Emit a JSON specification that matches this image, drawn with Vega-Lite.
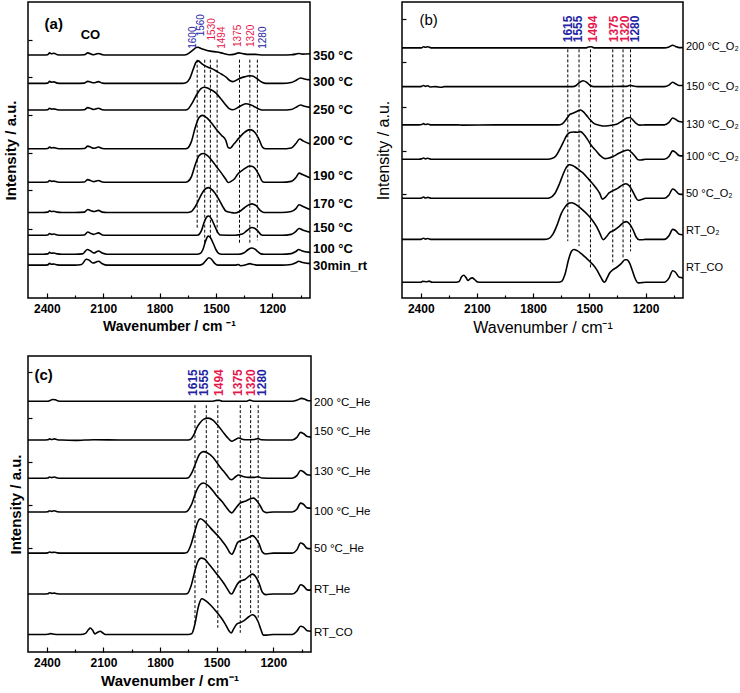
{
"$schema": "https://vega.github.io/schema/vega-lite/v6.json",
"autosize": {"type": "pad"},
"padding": {"left": 2, "top": 1, "right": 0, "bottom": 0},
"background": "white",
"spacing": 19,
"config": {
  "view": {"stroke": "black", "strokeWidth": 1.5},
  "axis": {"grid": false, "domain": false, "labelFont": "Liberation Sans", "titleFont": "Liberation Sans", "labelColor": "black", "titleColor": "black", "tickColor": "black", "tickWidth": 1.2},
  "text": {"font": "Liberation Sans", "color": "black"}
},
"datasets": {
"a": [
{"s":"a1","w":2500,"v":82.1},{"s":"a1","w":2420,"v":82.1},{"s":"a1","w":2395,"v":82.2},{"s":"a1","w":2385,"v":82.8},{"s":"a1","w":2375,"v":82.5},{"s":"a1","w":2362,"v":82.7},{"s":"a1","w":2345,"v":82.2},{"s":"a1","w":2320,"v":82.1},{"s":"a1","w":2250,"v":82.1},{"s":"a1","w":2200,"v":82.2},{"s":"a1","w":2182,"v":82.8},{"s":"a1","w":2165,"v":82.4},{"s":"a1","w":2150,"v":82.2},{"s":"a1","w":2125,"v":82.6},{"s":"a1","w":2105,"v":82.2},{"s":"a1","w":2080,"v":82.1},{"s":"a1","w":1950,"v":82.1},{"s":"a1","w":1800,"v":82.1},{"s":"a1","w":1680,"v":82.1},{"s":"a1","w":1660,"v":82.2},{"s":"a1","w":1640,"v":82.9},{"s":"a1","w":1620,"v":83.9},{"s":"a1","w":1605,"v":84.6},{"s":"a1","w":1595,"v":84.7},{"s":"a1","w":1580,"v":84.3},{"s":"a1","w":1560,"v":83.9},{"s":"a1","w":1530,"v":83.4},{"s":"a1","w":1494,"v":83.1},{"s":"a1","w":1460,"v":82.6},{"s":"a1","w":1430,"v":82.2},{"s":"a1","w":1400,"v":82.4},{"s":"a1","w":1380,"v":82.8},{"s":"a1","w":1360,"v":82.6},{"s":"a1","w":1330,"v":82.3},{"s":"a1","w":1290,"v":82.3},{"s":"a1","w":1250,"v":82.1},{"s":"a1","w":1150,"v":82.1},{"s":"a1","w":1100,"v":82.2},{"s":"a1","w":1075,"v":82.4},{"s":"a1","w":1060,"v":82.6},{"s":"a1","w":1040,"v":82.4},{"s":"a1","w":1000,"v":82.5},
{"s":"a2","w":2500,"v":72.5},{"s":"a2","w":2420,"v":72.5},{"s":"a2","w":2395,"v":72.6},{"s":"a2","w":2385,"v":73.2},{"s":"a2","w":2375,"v":72.9},{"s":"a2","w":2362,"v":73.0},{"s":"a2","w":2345,"v":72.6},{"s":"a2","w":2320,"v":72.5},{"s":"a2","w":2250,"v":72.5},{"s":"a2","w":2200,"v":72.6},{"s":"a2","w":2182,"v":73.2},{"s":"a2","w":2165,"v":72.9},{"s":"a2","w":2150,"v":72.7},{"s":"a2","w":2125,"v":73.1},{"s":"a2","w":2105,"v":72.6},{"s":"a2","w":2080,"v":72.5},{"s":"a2","w":1950,"v":72.5},{"s":"a2","w":1800,"v":72.5},{"s":"a2","w":1680,"v":72.5},{"s":"a2","w":1660,"v":72.7},{"s":"a2","w":1640,"v":74.1},{"s":"a2","w":1620,"v":77.5},{"s":"a2","w":1605,"v":79.8},{"s":"a2","w":1594,"v":80.1},{"s":"a2","w":1580,"v":79.4},{"s":"a2","w":1560,"v":78.5},{"s":"a2","w":1540,"v":77.9},{"s":"a2","w":1519,"v":77.4},{"s":"a2","w":1494,"v":76.5},{"s":"a2","w":1470,"v":75.6},{"s":"a2","w":1448,"v":74.7},{"s":"a2","w":1425,"v":73.4},{"s":"a2","w":1410,"v":73.1},{"s":"a2","w":1380,"v":74.0},{"s":"a2","w":1350,"v":74.7},{"s":"a2","w":1320,"v":75.1},{"s":"a2","w":1306,"v":75.0},{"s":"a2","w":1280,"v":74.0},{"s":"a2","w":1255,"v":72.9},{"s":"a2","w":1235,"v":72.5},{"s":"a2","w":1150,"v":72.5},{"s":"a2","w":1100,"v":72.8},{"s":"a2","w":1075,"v":73.5},{"s":"a2","w":1050,"v":74.3},{"s":"a2","w":1030,"v":74.0},{"s":"a2","w":1000,"v":73.7},
{"s":"a3","w":2500,"v":63.5},{"s":"a3","w":2420,"v":63.5},{"s":"a3","w":2395,"v":63.6},{"s":"a3","w":2385,"v":64.1},{"s":"a3","w":2375,"v":63.8},{"s":"a3","w":2362,"v":63.9},{"s":"a3","w":2345,"v":63.6},{"s":"a3","w":2320,"v":63.5},{"s":"a3","w":2250,"v":63.5},{"s":"a3","w":2200,"v":63.6},{"s":"a3","w":2182,"v":64.3},{"s":"a3","w":2165,"v":64.0},{"s":"a3","w":2150,"v":63.7},{"s":"a3","w":2125,"v":64.1},{"s":"a3","w":2105,"v":63.6},{"s":"a3","w":2080,"v":63.5},{"s":"a3","w":1950,"v":63.5},{"s":"a3","w":1800,"v":63.5},{"s":"a3","w":1670,"v":63.5},{"s":"a3","w":1652,"v":63.7},{"s":"a3","w":1630,"v":65.5},{"s":"a3","w":1600,"v":69.0},{"s":"a3","w":1580,"v":70.7},{"s":"a3","w":1563,"v":71.2},{"s":"a3","w":1540,"v":70.8},{"s":"a3","w":1501,"v":69.3},{"s":"a3","w":1470,"v":67.0},{"s":"a3","w":1445,"v":65.0},{"s":"a3","w":1430,"v":64.0},{"s":"a3","w":1410,"v":63.6},{"s":"a3","w":1380,"v":64.5},{"s":"a3","w":1360,"v":65.2},{"s":"a3","w":1341,"v":65.6},{"s":"a3","w":1320,"v":65.4},{"s":"a3","w":1300,"v":64.8},{"s":"a3","w":1270,"v":63.8},{"s":"a3","w":1245,"v":63.5},{"s":"a3","w":1150,"v":63.5},{"s":"a3","w":1100,"v":63.7},{"s":"a3","w":1075,"v":64.4},{"s":"a3","w":1050,"v":65.2},{"s":"a3","w":1030,"v":64.8},{"s":"a3","w":1000,"v":64.4},
{"s":"a4","w":2500,"v":50.4},{"s":"a4","w":2420,"v":50.4},{"s":"a4","w":2395,"v":50.5},{"s":"a4","w":2385,"v":51.0},{"s":"a4","w":2375,"v":50.7},{"s":"a4","w":2362,"v":50.8},{"s":"a4","w":2345,"v":50.5},{"s":"a4","w":2320,"v":50.4},{"s":"a4","w":2250,"v":50.4},{"s":"a4","w":2200,"v":50.5},{"s":"a4","w":2182,"v":51.3},{"s":"a4","w":2165,"v":50.9},{"s":"a4","w":2150,"v":50.6},{"s":"a4","w":2125,"v":51.0},{"s":"a4","w":2105,"v":50.5},{"s":"a4","w":2080,"v":50.4},{"s":"a4","w":1950,"v":50.4},{"s":"a4","w":1800,"v":50.4},{"s":"a4","w":1670,"v":50.4},{"s":"a4","w":1652,"v":50.6},{"s":"a4","w":1630,"v":53.0},{"s":"a4","w":1610,"v":57.7},{"s":"a4","w":1590,"v":61.0},{"s":"a4","w":1572,"v":61.7},{"s":"a4","w":1550,"v":60.9},{"s":"a4","w":1525,"v":59.2},{"s":"a4","w":1501,"v":57.2},{"s":"a4","w":1470,"v":54.9},{"s":"a4","w":1448,"v":53.3},{"s":"a4","w":1435,"v":50.8},{"s":"a4","w":1425,"v":50.6},{"s":"a4","w":1405,"v":52.0},{"s":"a4","w":1377,"v":54.1},{"s":"a4","w":1350,"v":55.9},{"s":"a4","w":1320,"v":56.9},{"s":"a4","w":1305,"v":56.6},{"s":"a4","w":1290,"v":55.7},{"s":"a4","w":1270,"v":53.4},{"s":"a4","w":1252,"v":50.9},{"s":"a4","w":1235,"v":50.4},{"s":"a4","w":1150,"v":50.4},{"s":"a4","w":1100,"v":50.7},{"s":"a4","w":1075,"v":52.2},{"s":"a4","w":1055,"v":53.7},{"s":"a4","w":1035,"v":53.0},{"s":"a4","w":1000,"v":52.0},
{"s":"a5","w":2500,"v":39.1},{"s":"a5","w":2420,"v":39.1},{"s":"a5","w":2395,"v":39.2},{"s":"a5","w":2385,"v":39.7},{"s":"a5","w":2375,"v":39.4},{"s":"a5","w":2362,"v":39.5},{"s":"a5","w":2345,"v":39.2},{"s":"a5","w":2320,"v":39.1},{"s":"a5","w":2250,"v":39.1},{"s":"a5","w":2200,"v":39.2},{"s":"a5","w":2182,"v":40.0},{"s":"a5","w":2165,"v":39.6},{"s":"a5","w":2150,"v":39.3},{"s":"a5","w":2125,"v":39.7},{"s":"a5","w":2105,"v":39.2},{"s":"a5","w":2080,"v":39.1},{"s":"a5","w":1950,"v":39.1},{"s":"a5","w":1800,"v":39.1},{"s":"a5","w":1670,"v":39.1},{"s":"a5","w":1652,"v":39.3},{"s":"a5","w":1630,"v":41.1},{"s":"a5","w":1610,"v":45.1},{"s":"a5","w":1590,"v":48.1},{"s":"a5","w":1569,"v":48.8},{"s":"a5","w":1545,"v":48.1},{"s":"a5","w":1520,"v":46.3},{"s":"a5","w":1500,"v":44.6},{"s":"a5","w":1470,"v":42.1},{"s":"a5","w":1448,"v":40.1},{"s":"a5","w":1435,"v":39.0},{"s":"a5","w":1420,"v":39.4},{"s":"a5","w":1400,"v":40.4},{"s":"a5","w":1386,"v":41.7},{"s":"a5","w":1350,"v":43.6},{"s":"a5","w":1320,"v":44.6},{"s":"a5","w":1305,"v":44.4},{"s":"a5","w":1290,"v":43.6},{"s":"a5","w":1270,"v":41.4},{"s":"a5","w":1252,"v":39.3},{"s":"a5","w":1235,"v":39.1},{"s":"a5","w":1150,"v":39.1},{"s":"a5","w":1100,"v":39.4},{"s":"a5","w":1075,"v":40.7},{"s":"a5","w":1058,"v":42.2},{"s":"a5","w":1040,"v":41.7},{"s":"a5","w":1000,"v":40.6},
{"s":"a6","w":2500,"v":28.9},{"s":"a6","w":2420,"v":28.9},{"s":"a6","w":2395,"v":29.0},{"s":"a6","w":2385,"v":29.5},{"s":"a6","w":2375,"v":29.2},{"s":"a6","w":2362,"v":29.3},{"s":"a6","w":2345,"v":29.0},{"s":"a6","w":2320,"v":28.9},{"s":"a6","w":2250,"v":28.9},{"s":"a6","w":2200,"v":29.0},{"s":"a6","w":2182,"v":29.9},{"s":"a6","w":2165,"v":29.5},{"s":"a6","w":2150,"v":29.2},{"s":"a6","w":2125,"v":29.6},{"s":"a6","w":2105,"v":29.0},{"s":"a6","w":2080,"v":28.9},{"s":"a6","w":1950,"v":28.9},{"s":"a6","w":1800,"v":28.9},{"s":"a6","w":1650,"v":28.9},{"s":"a6","w":1634,"v":29.1},{"s":"a6","w":1610,"v":30.9},{"s":"a6","w":1580,"v":34.7},{"s":"a6","w":1560,"v":36.7},{"s":"a6","w":1540,"v":37.3},{"s":"a6","w":1520,"v":36.5},{"s":"a6","w":1490,"v":33.9},{"s":"a6","w":1465,"v":31.0},{"s":"a6","w":1448,"v":29.4},{"s":"a6","w":1420,"v":28.9},{"s":"a6","w":1400,"v":28.7},{"s":"a6","w":1375,"v":29.2},{"s":"a6","w":1350,"v":30.4},{"s":"a6","w":1320,"v":31.7},{"s":"a6","w":1309,"v":31.8},{"s":"a6","w":1285,"v":31.1},{"s":"a6","w":1262,"v":29.4},{"s":"a6","w":1245,"v":28.9},{"s":"a6","w":1150,"v":28.9},{"s":"a6","w":1100,"v":29.2},{"s":"a6","w":1075,"v":30.2},{"s":"a6","w":1058,"v":31.5},{"s":"a6","w":1040,"v":31.0},{"s":"a6","w":1000,"v":29.9},
{"s":"a7","w":2500,"v":21.2},{"s":"a7","w":2420,"v":21.2},{"s":"a7","w":2395,"v":21.3},{"s":"a7","w":2385,"v":21.8},{"s":"a7","w":2375,"v":21.5},{"s":"a7","w":2362,"v":21.6},{"s":"a7","w":2345,"v":21.3},{"s":"a7","w":2320,"v":21.2},{"s":"a7","w":2250,"v":21.2},{"s":"a7","w":2200,"v":21.3},{"s":"a7","w":2182,"v":22.3},{"s":"a7","w":2165,"v":21.8},{"s":"a7","w":2150,"v":21.5},{"s":"a7","w":2125,"v":22.0},{"s":"a7","w":2105,"v":21.3},{"s":"a7","w":2080,"v":21.2},{"s":"a7","w":1950,"v":21.2},{"s":"a7","w":1800,"v":21.2},{"s":"a7","w":1610,"v":21.2},{"s":"a7","w":1595,"v":21.3},{"s":"a7","w":1578,"v":22.7},{"s":"a7","w":1560,"v":26.1},{"s":"a7","w":1545,"v":27.6},{"s":"a7","w":1538,"v":27.7},{"s":"a7","w":1525,"v":26.8},{"s":"a7","w":1510,"v":24.8},{"s":"a7","w":1495,"v":22.7},{"s":"a7","w":1478,"v":21.3},{"s":"a7","w":1400,"v":21.2},{"s":"a7","w":1360,"v":21.6},{"s":"a7","w":1335,"v":22.8},{"s":"a7","w":1310,"v":23.8},{"s":"a7","w":1295,"v":23.6},{"s":"a7","w":1278,"v":22.7},{"s":"a7","w":1260,"v":21.4},{"s":"a7","w":1245,"v":21.2},{"s":"a7","w":1150,"v":21.2},{"s":"a7","w":1100,"v":21.5},{"s":"a7","w":1075,"v":22.5},{"s":"a7","w":1058,"v":23.5},{"s":"a7","w":1040,"v":23.0},{"s":"a7","w":1000,"v":22.2},
{"s":"a8","w":2500,"v":14.8},{"s":"a8","w":2420,"v":14.8},{"s":"a8","w":2395,"v":14.9},{"s":"a8","w":2385,"v":15.4},{"s":"a8","w":2375,"v":15.1},{"s":"a8","w":2362,"v":15.2},{"s":"a8","w":2345,"v":14.9},{"s":"a8","w":2320,"v":14.8},{"s":"a8","w":2250,"v":14.8},{"s":"a8","w":2210,"v":14.9},{"s":"a8","w":2185,"v":16.4},{"s":"a8","w":2165,"v":15.8},{"s":"a8","w":2150,"v":15.2},{"s":"a8","w":2125,"v":15.9},{"s":"a8","w":2105,"v":15.2},{"s":"a8","w":2080,"v":14.8},{"s":"a8","w":1950,"v":14.8},{"s":"a8","w":1800,"v":14.8},{"s":"a8","w":1600,"v":14.8},{"s":"a8","w":1585,"v":15.0},{"s":"a8","w":1570,"v":16.3},{"s":"a8","w":1555,"v":19.3},{"s":"a8","w":1542,"v":20.9},{"s":"a8","w":1530,"v":20.4},{"s":"a8","w":1515,"v":18.5},{"s":"a8","w":1500,"v":16.3},{"s":"a8","w":1485,"v":15.0},{"s":"a8","w":1470,"v":14.8},{"s":"a8","w":1380,"v":14.8},{"s":"a8","w":1350,"v":15.3},{"s":"a8","w":1330,"v":16.3},{"s":"a8","w":1311,"v":16.9},{"s":"a8","w":1295,"v":16.6},{"s":"a8","w":1278,"v":15.7},{"s":"a8","w":1260,"v":14.9},{"s":"a8","w":1245,"v":14.8},{"s":"a8","w":1150,"v":14.8},{"s":"a8","w":1100,"v":15.0},{"s":"a8","w":1075,"v":15.7},{"s":"a8","w":1060,"v":16.4},{"s":"a8","w":1045,"v":16.0},{"s":"a8","w":1000,"v":15.4},
{"s":"a9","w":2500,"v":11.1},{"s":"a9","w":2420,"v":11.1},{"s":"a9","w":2395,"v":11.2},{"s":"a9","w":2385,"v":11.7},{"s":"a9","w":2375,"v":11.4},{"s":"a9","w":2362,"v":11.5},{"s":"a9","w":2345,"v":11.2},{"s":"a9","w":2320,"v":11.1},{"s":"a9","w":2250,"v":11.1},{"s":"a9","w":2215,"v":11.3},{"s":"a9","w":2190,"v":13.1},{"s":"a9","w":2175,"v":12.8},{"s":"a9","w":2155,"v":11.8},{"s":"a9","w":2125,"v":12.4},{"s":"a9","w":2105,"v":11.6},{"s":"a9","w":2080,"v":11.1},{"s":"a9","w":1950,"v":11.1},{"s":"a9","w":1800,"v":11.1},{"s":"a9","w":1590,"v":11.1},{"s":"a9","w":1570,"v":11.5},{"s":"a9","w":1552,"v":12.8},{"s":"a9","w":1538,"v":13.6},{"s":"a9","w":1524,"v":13.1},{"s":"a9","w":1508,"v":11.8},{"s":"a9","w":1490,"v":11.1},{"s":"a9","w":1400,"v":11.1},{"s":"a9","w":1380,"v":11.3},{"s":"a9","w":1370,"v":10.9},{"s":"a9","w":1340,"v":11.2},{"s":"a9","w":1320,"v":11.6},{"s":"a9","w":1300,"v":11.3},{"s":"a9","w":1270,"v":11.1},{"s":"a9","w":1150,"v":11.1},{"s":"a9","w":1100,"v":11.3},{"s":"a9","w":1075,"v":11.9},{"s":"a9","w":1060,"v":12.4},{"s":"a9","w":1045,"v":12.1},{"s":"a9","w":1000,"v":11.6}
],
"b": [
{"s":"b1","w":2500,"v":84.5},{"s":"b1","w":2420,"v":84.5},{"s":"b1","w":2395,"v":84.5},{"s":"b1","w":2385,"v":84.9},{"s":"b1","w":2375,"v":84.7},{"s":"b1","w":2362,"v":84.9},{"s":"b1","w":2345,"v":84.5},{"s":"b1","w":2300,"v":84.5},{"s":"b1","w":2000,"v":84.5},{"s":"b1","w":1800,"v":84.5},{"s":"b1","w":1520,"v":84.5},{"s":"b1","w":1505,"v":84.8},{"s":"b1","w":1490,"v":84.9},{"s":"b1","w":1475,"v":84.5},{"s":"b1","w":1400,"v":84.5},{"s":"b1","w":1300,"v":84.5},{"s":"b1","w":1100,"v":84.5},{"s":"b1","w":1075,"v":84.8},{"s":"b1","w":1055,"v":85.4},{"s":"b1","w":1040,"v":85.0},{"s":"b1","w":1020,"v":84.6},{"s":"b1","w":1000,"v":84.6},
{"s":"b2","w":2500,"v":71.4},{"s":"b2","w":2410,"v":71.4},{"s":"b2","w":2395,"v":71.5},{"s":"b2","w":2385,"v":71.8},{"s":"b2","w":2375,"v":71.5},{"s":"b2","w":2362,"v":71.7},{"s":"b2","w":2350,"v":71.3},{"s":"b2","w":2320,"v":71.4},{"s":"b2","w":2290,"v":71.2},{"s":"b2","w":2275,"v":71.4},{"s":"b2","w":2200,"v":71.4},{"s":"b2","w":2000,"v":71.4},{"s":"b2","w":1800,"v":71.4},{"s":"b2","w":1590,"v":71.4},{"s":"b2","w":1570,"v":71.8},{"s":"b2","w":1555,"v":72.7},{"s":"b2","w":1533,"v":73.4},{"s":"b2","w":1515,"v":72.9},{"s":"b2","w":1495,"v":71.8},{"s":"b2","w":1475,"v":71.4},{"s":"b2","w":1400,"v":71.4},{"s":"b2","w":1330,"v":71.5},{"s":"b2","w":1300,"v":71.5},{"s":"b2","w":1282,"v":71.9},{"s":"b2","w":1265,"v":71.6},{"s":"b2","w":1240,"v":71.4},{"s":"b2","w":1100,"v":71.4},{"s":"b2","w":1075,"v":71.9},{"s":"b2","w":1055,"v":72.9},{"s":"b2","w":1040,"v":72.4},{"s":"b2","w":1020,"v":71.8},{"s":"b2","w":1000,"v":71.8},
{"s":"b3","w":2500,"v":58.5},{"s":"b3","w":2410,"v":58.5},{"s":"b3","w":2395,"v":58.6},{"s":"b3","w":2385,"v":58.9},{"s":"b3","w":2375,"v":58.6},{"s":"b3","w":2362,"v":58.8},{"s":"b3","w":2345,"v":58.5},{"s":"b3","w":2200,"v":58.5},{"s":"b3","w":2180,"v":58.4},{"s":"b3","w":2000,"v":58.5},{"s":"b3","w":1800,"v":58.5},{"s":"b3","w":1665,"v":58.5},{"s":"b3","w":1648,"v":58.7},{"s":"b3","w":1625,"v":60.2},{"s":"b3","w":1604,"v":62.0},{"s":"b3","w":1585,"v":62.5},{"s":"b3","w":1565,"v":63.1},{"s":"b3","w":1547,"v":63.5},{"s":"b3","w":1530,"v":62.8},{"s":"b3","w":1515,"v":61.7},{"s":"b3","w":1497,"v":60.3},{"s":"b3","w":1478,"v":59.1},{"s":"b3","w":1462,"v":58.6},{"s":"b3","w":1440,"v":58.3},{"s":"b3","w":1426,"v":58.1},{"s":"b3","w":1390,"v":58.3},{"s":"b3","w":1355,"v":58.7},{"s":"b3","w":1330,"v":59.6},{"s":"b3","w":1300,"v":60.8},{"s":"b3","w":1284,"v":61.0},{"s":"b3","w":1268,"v":60.2},{"s":"b3","w":1250,"v":59.0},{"s":"b3","w":1231,"v":58.4},{"s":"b3","w":1200,"v":58.5},{"s":"b3","w":1100,"v":58.5},{"s":"b3","w":1075,"v":59.3},{"s":"b3","w":1055,"v":60.8},{"s":"b3","w":1040,"v":60.4},{"s":"b3","w":1020,"v":59.6},{"s":"b3","w":1000,"v":59.4},
{"s":"b4","w":2500,"v":46.9},{"s":"b4","w":2410,"v":46.9},{"s":"b4","w":2395,"v":47.0},{"s":"b4","w":2385,"v":47.3},{"s":"b4","w":2375,"v":47.0},{"s":"b4","w":2362,"v":47.2},{"s":"b4","w":2345,"v":46.9},{"s":"b4","w":2200,"v":46.9},{"s":"b4","w":2000,"v":46.9},{"s":"b4","w":1800,"v":46.9},{"s":"b4","w":1720,"v":46.9},{"s":"b4","w":1701,"v":47.1},{"s":"b4","w":1680,"v":47.9},{"s":"b4","w":1660,"v":50.0},{"s":"b4","w":1640,"v":52.5},{"s":"b4","w":1620,"v":55.0},{"s":"b4","w":1604,"v":55.9},{"s":"b4","w":1585,"v":56.1},{"s":"b4","w":1565,"v":56.0},{"s":"b4","w":1547,"v":56.2},{"s":"b4","w":1530,"v":55.3},{"s":"b4","w":1510,"v":53.6},{"s":"b4","w":1490,"v":51.6},{"s":"b4","w":1462,"v":49.6},{"s":"b4","w":1440,"v":48.0},{"s":"b4","w":1417,"v":47.1},{"s":"b4","w":1395,"v":47.3},{"s":"b4","w":1373,"v":47.8},{"s":"b4","w":1345,"v":48.8},{"s":"b4","w":1315,"v":49.7},{"s":"b4","w":1293,"v":50.0},{"s":"b4","w":1275,"v":49.2},{"s":"b4","w":1255,"v":47.8},{"s":"b4","w":1240,"v":46.7},{"s":"b4","w":1225,"v":46.6},{"s":"b4","w":1200,"v":46.9},{"s":"b4","w":1100,"v":46.9},{"s":"b4","w":1075,"v":47.8},{"s":"b4","w":1055,"v":49.7},{"s":"b4","w":1040,"v":49.2},{"s":"b4","w":1020,"v":48.1},{"s":"b4","w":1000,"v":48.0},
{"s":"b5","w":2500,"v":33.7},{"s":"b5","w":2410,"v":33.7},{"s":"b5","w":2395,"v":33.8},{"s":"b5","w":2385,"v":34.1},{"s":"b5","w":2375,"v":33.8},{"s":"b5","w":2362,"v":34.0},{"s":"b5","w":2345,"v":33.7},{"s":"b5","w":2200,"v":33.7},{"s":"b5","w":2000,"v":33.7},{"s":"b5","w":1800,"v":33.7},{"s":"b5","w":1730,"v":33.7},{"s":"b5","w":1710,"v":33.9},{"s":"b5","w":1685,"v":35.2},{"s":"b5","w":1660,"v":38.5},{"s":"b5","w":1640,"v":41.8},{"s":"b5","w":1625,"v":43.9},{"s":"b5","w":1607,"v":45.0},{"s":"b5","w":1590,"v":44.8},{"s":"b5","w":1570,"v":44.0},{"s":"b5","w":1550,"v":43.0},{"s":"b5","w":1533,"v":42.2},{"s":"b5","w":1510,"v":40.6},{"s":"b5","w":1490,"v":39.2},{"s":"b5","w":1462,"v":37.0},{"s":"b5","w":1445,"v":35.4},{"s":"b5","w":1430,"v":33.4},{"s":"b5","w":1415,"v":34.0},{"s":"b5","w":1395,"v":35.5},{"s":"b5","w":1373,"v":36.3},{"s":"b5","w":1345,"v":37.2},{"s":"b5","w":1320,"v":38.3},{"s":"b5","w":1305,"v":38.6},{"s":"b5","w":1288,"v":38.0},{"s":"b5","w":1270,"v":36.2},{"s":"b5","w":1255,"v":34.3},{"s":"b5","w":1240,"v":33.0},{"s":"b5","w":1220,"v":33.3},{"s":"b5","w":1200,"v":33.7},{"s":"b5","w":1100,"v":33.7},{"s":"b5","w":1075,"v":34.8},{"s":"b5","w":1055,"v":36.8},{"s":"b5","w":1040,"v":36.3},{"s":"b5","w":1020,"v":35.1},{"s":"b5","w":1000,"v":35.0},
{"s":"b6","w":2500,"v":19.8},{"s":"b6","w":2410,"v":19.8},{"s":"b6","w":2395,"v":19.9},{"s":"b6","w":2385,"v":20.2},{"s":"b6","w":2375,"v":19.9},{"s":"b6","w":2362,"v":20.1},{"s":"b6","w":2345,"v":19.8},{"s":"b6","w":2200,"v":19.8},{"s":"b6","w":2000,"v":19.8},{"s":"b6","w":1800,"v":19.8},{"s":"b6","w":1740,"v":19.8},{"s":"b6","w":1719,"v":20.0},{"s":"b6","w":1695,"v":21.5},{"s":"b6","w":1670,"v":25.0},{"s":"b6","w":1650,"v":28.5},{"s":"b6","w":1630,"v":30.7},{"s":"b6","w":1610,"v":32.0},{"s":"b6","w":1595,"v":32.2},{"s":"b6","w":1575,"v":31.7},{"s":"b6","w":1555,"v":30.8},{"s":"b6","w":1533,"v":29.6},{"s":"b6","w":1510,"v":28.2},{"s":"b6","w":1490,"v":26.8},{"s":"b6","w":1462,"v":24.2},{"s":"b6","w":1445,"v":22.0},{"s":"b6","w":1426,"v":19.7},{"s":"b6","w":1410,"v":20.6},{"s":"b6","w":1390,"v":22.2},{"s":"b6","w":1370,"v":22.8},{"s":"b6","w":1340,"v":24.2},{"s":"b6","w":1315,"v":25.6},{"s":"b6","w":1302,"v":25.8},{"s":"b6","w":1285,"v":25.0},{"s":"b6","w":1265,"v":22.8},{"s":"b6","w":1250,"v":20.6},{"s":"b6","w":1234,"v":19.7},{"s":"b6","w":1215,"v":19.7},{"s":"b6","w":1200,"v":19.8},{"s":"b6","w":1100,"v":19.8},{"s":"b6","w":1075,"v":21.0},{"s":"b6","w":1055,"v":23.2},{"s":"b6","w":1040,"v":22.8},{"s":"b6","w":1020,"v":21.5},{"s":"b6","w":1000,"v":21.3},
{"s":"b7","w":2500,"v":5.3},{"s":"b7","w":2420,"v":5.3},{"s":"b7","w":2400,"v":5.3},{"s":"b7","w":2390,"v":5.6},{"s":"b7","w":2370,"v":5.5},{"s":"b7","w":2355,"v":5.7},{"s":"b7","w":2340,"v":5.3},{"s":"b7","w":2220,"v":5.3},{"s":"b7","w":2195,"v":5.6},{"s":"b7","w":2182,"v":7.2},{"s":"b7","w":2170,"v":7.7},{"s":"b7","w":2158,"v":6.9},{"s":"b7","w":2148,"v":5.9},{"s":"b7","w":2135,"v":6.6},{"s":"b7","w":2125,"v":6.8},{"s":"b7","w":2112,"v":6.2},{"s":"b7","w":2095,"v":5.4},{"s":"b7","w":2080,"v":5.3},{"s":"b7","w":2000,"v":5.3},{"s":"b7","w":1800,"v":5.3},{"s":"b7","w":1665,"v":5.3},{"s":"b7","w":1648,"v":5.6},{"s":"b7","w":1630,"v":8.0},{"s":"b7","w":1610,"v":13.2},{"s":"b7","w":1595,"v":15.8},{"s":"b7","w":1582,"v":16.4},{"s":"b7","w":1565,"v":16.0},{"s":"b7","w":1545,"v":15.1},{"s":"b7","w":1520,"v":13.7},{"s":"b7","w":1500,"v":12.5},{"s":"b7","w":1480,"v":11.2},{"s":"b7","w":1460,"v":9.5},{"s":"b7","w":1440,"v":7.2},{"s":"b7","w":1426,"v":5.6},{"s":"b7","w":1418,"v":5.3},{"s":"b7","w":1405,"v":6.8},{"s":"b7","w":1390,"v":8.6},{"s":"b7","w":1375,"v":9.5},{"s":"b7","w":1355,"v":10.3},{"s":"b7","w":1330,"v":11.6},{"s":"b7","w":1310,"v":12.9},{"s":"b7","w":1300,"v":12.9},{"s":"b7","w":1285,"v":11.8},{"s":"b7","w":1270,"v":9.2},{"s":"b7","w":1255,"v":6.5},{"s":"b7","w":1240,"v":5.1},{"s":"b7","w":1220,"v":5.2},{"s":"b7","w":1200,"v":5.3},{"s":"b7","w":1100,"v":5.3},{"s":"b7","w":1075,"v":6.7},{"s":"b7","w":1055,"v":9.2},{"s":"b7","w":1040,"v":8.7},{"s":"b7","w":1020,"v":7.0},{"s":"b7","w":1000,"v":6.8}
],
"c": [
{"s":"c1","w":2500,"v":84.7},{"s":"c1","w":2400,"v":84.7},{"s":"c1","w":2385,"v":84.9},{"s":"c1","w":2370,"v":85.3},{"s":"c1","w":2355,"v":85.2},{"s":"c1","w":2340,"v":84.8},{"s":"c1","w":2320,"v":84.7},{"s":"c1","w":2000,"v":84.7},{"s":"c1","w":1800,"v":84.7},{"s":"c1","w":1520,"v":84.7},{"s":"c1","w":1500,"v":85.0},{"s":"c1","w":1485,"v":85.0},{"s":"c1","w":1470,"v":84.7},{"s":"c1","w":1340,"v":84.7},{"s":"c1","w":1325,"v":85.1},{"s":"c1","w":1310,"v":84.8},{"s":"c1","w":1290,"v":84.7},{"s":"c1","w":1100,"v":84.7},{"s":"c1","w":1070,"v":85.2},{"s":"c1","w":1050,"v":85.7},{"s":"c1","w":1035,"v":85.5},{"s":"c1","w":1015,"v":84.9},{"s":"c1","w":1000,"v":84.9},
{"s":"c2","w":2500,"v":71.6},{"s":"c2","w":2420,"v":71.6},{"s":"c2","w":2395,"v":71.7},{"s":"c2","w":2385,"v":72.0},{"s":"c2","w":2375,"v":71.8},{"s":"c2","w":2360,"v":72.0},{"s":"c2","w":2345,"v":71.7},{"s":"c2","w":2320,"v":71.6},{"s":"c2","w":2250,"v":71.5},{"s":"c2","w":2200,"v":71.6},{"s":"c2","w":2150,"v":71.7},{"s":"c2","w":2000,"v":71.6},{"s":"c2","w":1800,"v":71.6},{"s":"c2","w":1660,"v":71.6},{"s":"c2","w":1640,"v":71.8},{"s":"c2","w":1620,"v":73.5},{"s":"c2","w":1605,"v":75.8},{"s":"c2","w":1590,"v":77.3},{"s":"c2","w":1570,"v":78.6},{"s":"c2","w":1545,"v":79.0},{"s":"c2","w":1520,"v":78.3},{"s":"c2","w":1500,"v":77.0},{"s":"c2","w":1490,"v":76.3},{"s":"c2","w":1465,"v":74.2},{"s":"c2","w":1445,"v":72.6},{"s":"c2","w":1430,"v":71.6},{"s":"c2","w":1420,"v":71.2},{"s":"c2","w":1400,"v":71.8},{"s":"c2","w":1384,"v":72.3},{"s":"c2","w":1360,"v":71.8},{"s":"c2","w":1340,"v":71.7},{"s":"c2","w":1300,"v":71.8},{"s":"c2","w":1280,"v":72.1},{"s":"c2","w":1265,"v":71.7},{"s":"c2","w":1200,"v":71.6},{"s":"c2","w":1100,"v":71.6},{"s":"c2","w":1075,"v":72.5},{"s":"c2","w":1055,"v":74.2},{"s":"c2","w":1040,"v":73.8},{"s":"c2","w":1020,"v":72.8},{"s":"c2","w":1000,"v":72.6},
{"s":"c3","w":2500,"v":58.7},{"s":"c3","w":2420,"v":58.7},{"s":"c3","w":2395,"v":58.8},{"s":"c3","w":2385,"v":59.1},{"s":"c3","w":2375,"v":58.9},{"s":"c3","w":2360,"v":59.1},{"s":"c3","w":2345,"v":58.8},{"s":"c3","w":2320,"v":58.7},{"s":"c3","w":2000,"v":58.7},{"s":"c3","w":1800,"v":58.7},{"s":"c3","w":1670,"v":58.7},{"s":"c3","w":1650,"v":58.9},{"s":"c3","w":1630,"v":60.8},{"s":"c3","w":1610,"v":64.0},{"s":"c3","w":1590,"v":66.9},{"s":"c3","w":1570,"v":67.7},{"s":"c3","w":1550,"v":67.3},{"s":"c3","w":1520,"v":65.8},{"s":"c3","w":1490,"v":63.2},{"s":"c3","w":1465,"v":61.2},{"s":"c3","w":1445,"v":59.6},{"s":"c3","w":1430,"v":58.4},{"s":"c3","w":1420,"v":58.2},{"s":"c3","w":1400,"v":59.2},{"s":"c3","w":1384,"v":59.8},{"s":"c3","w":1360,"v":59.3},{"s":"c3","w":1330,"v":59.0},{"s":"c3","w":1300,"v":59.0},{"s":"c3","w":1280,"v":59.2},{"s":"c3","w":1260,"v":58.8},{"s":"c3","w":1200,"v":58.7},{"s":"c3","w":1100,"v":58.7},{"s":"c3","w":1075,"v":59.6},{"s":"c3","w":1055,"v":61.3},{"s":"c3","w":1040,"v":60.9},{"s":"c3","w":1020,"v":59.9},{"s":"c3","w":1000,"v":59.7},
{"s":"c4","w":2500,"v":47.3},{"s":"c4","w":2420,"v":47.3},{"s":"c4","w":2395,"v":47.4},{"s":"c4","w":2385,"v":47.7},{"s":"c4","w":2375,"v":47.5},{"s":"c4","w":2360,"v":47.7},{"s":"c4","w":2345,"v":47.4},{"s":"c4","w":2320,"v":47.3},{"s":"c4","w":2000,"v":47.3},{"s":"c4","w":1800,"v":47.3},{"s":"c4","w":1675,"v":47.3},{"s":"c4","w":1658,"v":47.5},{"s":"c4","w":1635,"v":49.6},{"s":"c4","w":1610,"v":54.0},{"s":"c4","w":1590,"v":56.4},{"s":"c4","w":1570,"v":57.1},{"s":"c4","w":1545,"v":56.2},{"s":"c4","w":1520,"v":54.5},{"s":"c4","w":1500,"v":52.8},{"s":"c4","w":1473,"v":50.9},{"s":"c4","w":1450,"v":49.0},{"s":"c4","w":1432,"v":47.5},{"s":"c4","w":1420,"v":47.0},{"s":"c4","w":1400,"v":48.5},{"s":"c4","w":1376,"v":50.3},{"s":"c4","w":1350,"v":50.9},{"s":"c4","w":1320,"v":51.8},{"s":"c4","w":1305,"v":52.0},{"s":"c4","w":1290,"v":51.3},{"s":"c4","w":1270,"v":49.5},{"s":"c4","w":1252,"v":47.5},{"s":"c4","w":1235,"v":47.1},{"s":"c4","w":1200,"v":47.3},{"s":"c4","w":1100,"v":47.3},{"s":"c4","w":1075,"v":48.2},{"s":"c4","w":1055,"v":50.3},{"s":"c4","w":1040,"v":49.9},{"s":"c4","w":1020,"v":48.7},{"s":"c4","w":1000,"v":48.6},
{"s":"c5","w":2500,"v":33.4},{"s":"c5","w":2420,"v":33.4},{"s":"c5","w":2395,"v":33.5},{"s":"c5","w":2385,"v":33.8},{"s":"c5","w":2375,"v":33.6},{"s":"c5","w":2360,"v":33.7},{"s":"c5","w":2345,"v":33.5},{"s":"c5","w":2320,"v":33.4},{"s":"c5","w":2000,"v":33.4},{"s":"c5","w":1800,"v":33.4},{"s":"c5","w":1675,"v":33.4},{"s":"c5","w":1658,"v":33.6},{"s":"c5","w":1635,"v":36.5},{"s":"c5","w":1615,"v":41.0},{"s":"c5","w":1600,"v":44.0},{"s":"c5","w":1587,"v":45.0},{"s":"c5","w":1570,"v":44.5},{"s":"c5","w":1545,"v":42.8},{"s":"c5","w":1520,"v":41.0},{"s":"c5","w":1490,"v":39.0},{"s":"c5","w":1465,"v":37.0},{"s":"c5","w":1445,"v":35.2},{"s":"c5","w":1430,"v":33.5},{"s":"c5","w":1420,"v":33.0},{"s":"c5","w":1405,"v":34.6},{"s":"c5","w":1390,"v":36.9},{"s":"c5","w":1376,"v":37.5},{"s":"c5","w":1350,"v":38.0},{"s":"c5","w":1325,"v":38.9},{"s":"c5","w":1310,"v":39.3},{"s":"c5","w":1295,"v":38.6},{"s":"c5","w":1275,"v":36.5},{"s":"c5","w":1258,"v":33.8},{"s":"c5","w":1240,"v":33.1},{"s":"c5","w":1200,"v":33.4},{"s":"c5","w":1100,"v":33.4},{"s":"c5","w":1075,"v":34.5},{"s":"c5","w":1055,"v":36.8},{"s":"c5","w":1040,"v":36.4},{"s":"c5","w":1020,"v":35.0},{"s":"c5","w":1000,"v":34.9},
{"s":"c6","w":2500,"v":19.6},{"s":"c6","w":2420,"v":19.6},{"s":"c6","w":2395,"v":19.7},{"s":"c6","w":2385,"v":20.0},{"s":"c6","w":2375,"v":19.8},{"s":"c6","w":2360,"v":19.9},{"s":"c6","w":2345,"v":19.7},{"s":"c6","w":2320,"v":19.6},{"s":"c6","w":2000,"v":19.6},{"s":"c6","w":1800,"v":19.6},{"s":"c6","w":1672,"v":19.6},{"s":"c6","w":1655,"v":19.8},{"s":"c6","w":1635,"v":22.5},{"s":"c6","w":1615,"v":27.5},{"s":"c6","w":1600,"v":30.5},{"s":"c6","w":1582,"v":31.7},{"s":"c6","w":1565,"v":31.4},{"s":"c6","w":1545,"v":30.0},{"s":"c6","w":1520,"v":28.0},{"s":"c6","w":1490,"v":25.6},{"s":"c6","w":1465,"v":23.5},{"s":"c6","w":1445,"v":21.5},{"s":"c6","w":1428,"v":19.8},{"s":"c6","w":1420,"v":19.6},{"s":"c6","w":1405,"v":21.2},{"s":"c6","w":1390,"v":23.0},{"s":"c6","w":1376,"v":23.9},{"s":"c6","w":1350,"v":24.5},{"s":"c6","w":1325,"v":25.8},{"s":"c6","w":1310,"v":26.3},{"s":"c6","w":1295,"v":25.6},{"s":"c6","w":1275,"v":23.2},{"s":"c6","w":1258,"v":20.2},{"s":"c6","w":1240,"v":19.4},{"s":"c6","w":1200,"v":19.6},{"s":"c6","w":1100,"v":19.6},{"s":"c6","w":1075,"v":20.6},{"s":"c6","w":1055,"v":22.7},{"s":"c6","w":1040,"v":22.3},{"s":"c6","w":1020,"v":21.0},{"s":"c6","w":1000,"v":20.9},
{"s":"c7","w":2500,"v":5.9},{"s":"c7","w":2420,"v":5.9},{"s":"c7","w":2395,"v":6.0},{"s":"c7","w":2380,"v":6.2},{"s":"c7","w":2360,"v":6.0},{"s":"c7","w":2340,"v":5.9},{"s":"c7","w":2220,"v":5.9},{"s":"c7","w":2195,"v":6.3},{"s":"c7","w":2180,"v":7.5},{"s":"c7","w":2170,"v":8.1},{"s":"c7","w":2158,"v":7.4},{"s":"c7","w":2145,"v":6.1},{"s":"c7","w":2130,"v":6.7},{"s":"c7","w":2117,"v":7.0},{"s":"c7","w":2105,"v":6.5},{"s":"c7","w":2090,"v":5.9},{"s":"c7","w":2000,"v":5.9},{"s":"c7","w":1800,"v":5.9},{"s":"c7","w":1650,"v":5.9},{"s":"c7","w":1632,"v":6.2},{"s":"c7","w":1615,"v":9.5},{"s":"c7","w":1600,"v":14.5},{"s":"c7","w":1590,"v":16.8},{"s":"c7","w":1579,"v":18.0},{"s":"c7","w":1560,"v":17.4},{"s":"c7","w":1530,"v":15.7},{"s":"c7","w":1500,"v":13.5},{"s":"c7","w":1475,"v":11.5},{"s":"c7","w":1455,"v":9.5},{"s":"c7","w":1435,"v":7.2},{"s":"c7","w":1423,"v":6.4},{"s":"c7","w":1410,"v":7.8},{"s":"c7","w":1392,"v":9.5},{"s":"c7","w":1376,"v":9.9},{"s":"c7","w":1355,"v":10.6},{"s":"c7","w":1330,"v":11.9},{"s":"c7","w":1312,"v":12.6},{"s":"c7","w":1298,"v":12.2},{"s":"c7","w":1280,"v":10.2},{"s":"c7","w":1265,"v":7.5},{"s":"c7","w":1252,"v":5.7},{"s":"c7","w":1235,"v":5.7},{"s":"c7","w":1200,"v":5.9},{"s":"c7","w":1100,"v":5.9},{"s":"c7","w":1075,"v":7.0},{"s":"c7","w":1055,"v":8.7},{"s":"c7","w":1040,"v":8.4},{"s":"c7","w":1020,"v":7.2},{"s":"c7","w":1000,"v":7.0}
],
"ar": [{"w":1600,"v":80.5,"v2":23.5},{"w":1560,"v":80.5,"v2":18.5},{"w":1530,"v":80.5,"v2":20.3},{"w":1494,"v":80.5,"v2":21.4},{"w":1375,"v":80.5,"v2":18.5},{"w":1320,"v":80.5,"v2":18.5},{"w":1280,"v":80.5,"v2":19.5}],
"br": [{"w":1615,"v":84,"v2":19.2},{"w":1555,"v":84,"v2":17.5},{"w":1494,"v":84,"v2":10.2},{"w":1375,"v":84,"v2":11.3},{"w":1320,"v":84,"v2":13.6},{"w":1280,"v":84,"v2":15.8}],
"cr": [{"w":1615,"v":83.4,"v2":9.3},{"w":1555,"v":83.4,"v2":19.4},{"w":1494,"v":83.4,"v2":8.2},{"w":1375,"v":83.4,"v2":6.5},{"w":1320,"v":83.4,"v2":12.7},{"w":1280,"v":83.4,"v2":11.6}],
"ap": [{"t":"1600","k":"i","w":1622,"v":84.2},{"t":"1560","k":"i","w":1581,"v":88.4},{"t":"1530","k":"ii","w":1521,"v":87.0},{"t":"1494","k":"ii","w":1468,"v":84.2},{"t":"1375","k":"ii","w":1383,"v":84.8},{"t":"1320","k":"ii","w":1314,"v":84.8},{"t":"1280","k":"i","w":1250,"v":84.2}],
"bp": [{"t":"1615","k":"i","w":1612,"v":86.4},{"t":"1555","k":"i","w":1559,"v":86.4},{"t":"1494","k":"ii","w":1483,"v":86.4},{"t":"1375","k":"ii","w":1367,"v":86.4},{"t":"1320","k":"ii","w":1311,"v":86.4},{"t":"1280","k":"i","w":1258,"v":86.4}],
"cp": [{"t":"1615","k":"i","w":1623,"v":86.5},{"t":"1555","k":"i","w":1565,"v":86.5},{"t":"1494","k":"ii","w":1490,"v":86.5},{"t":"1375","k":"ii","w":1385,"v":86.5},{"t":"1320","k":"ii","w":1319,"v":86.5},{"t":"1280","k":"i","w":1261,"v":86.5}],
"al": [{"t":"350 °C","w":1000,"v":81.8},{"t":"300 °C","w":1000,"v":73.0},{"t":"250 °C","w":1000,"v":63.5},{"t":"200 °C","w":1000,"v":53.1},{"t":"190 °C","w":1000,"v":41.2},{"t":"170 °C","w":1000,"v":31.6},{"t":"150 °C","w":1000,"v":23.5},{"t":"100 °C","w":1000,"v":16.4},{"t":"30min_rt","w":1000,"v":10.8}],
"bl": [{"t":"200 °C_O₂","w":1000,"v":84.7},{"t":"150 °C_O₂","w":1000,"v":71.4},{"t":"130 °C_O₂","w":1000,"v":58.5},{"t":"100 °C_O₂","w":1000,"v":47.5},{"t":"50 °C_O₂","w":1000,"v":35.0},{"t":"RT_O₂","w":1000,"v":22.6},{"t":"RT_CO","w":1000,"v":10.2}],
"cl": [{"t":"200 °C_He","w":1000,"v":84.0},{"t":"150 °C_He","w":1000,"v":74.2},{"t":"130 °C_He","w":1000,"v":60.7},{"t":"100 °C_He","w":1000,"v":47.3},{"t":"50 °C_He","w":1000,"v":34.9},{"t":"RT_He","w":1000,"v":21.1},{"t":"RT_CO","w":1000,"v":6.5}],
"at": [{"t":"(a)","w":2363,"v":92.7}],
"aco": [{"t":"CO","w":2168,"v":89.0}],
"bt": [{"t":"(b)","w":2358,"v":93.8}],
"ct": [{"t":"(c)","w":2417,"v":93.5}]
},
"vconcat": [
{
"bounds": "flush",
"spacing": 92,
"hconcat": [
{
"width": 282, "height": 296,
"encoding": {
  "x": {"field": "w", "type": "quantitative", "scale": {"domain": [1000, 2500], "reverse": true, "nice": false, "zero": false},
    "axis": {"values": [2400, 2250, 2100, 1950, 1800, 1650, 1500, 1350, 1200, 1050], "format": "d", "labelExpr": "datum.value % 300 === 0 ? datum.label : ''", "tickSize": {"condition": {"test": "datum.value % 300 === 0", "value": -5}, "value": -3}, "labelPadding": 10, "labelFontSize": 12, "labelFontWeight": "bold", "labelFlush": false, "labelOverlap": false, "title": "Wavenumber / cm ⁻¹", "titleFontSize": 14, "titleFontWeight": "bold", "titlePadding": 3}},
  "y": {"field": "v", "type": "quantitative", "scale": {"domain": [0, 100], "nice": false, "zero": false},
    "axis": {"values": [87.1, 74.5, 61.7, 49.1, 36.5, 23.4], "labels": false, "tickSize": -4, "title": "Intensity / a.u.", "titleFontSize": 15, "titleFontWeight": "bold", "titlePadding": 9}}
},
"layer": [
  {"data": {"name": "a"}, "mark": {"type": "line", "color": "black", "strokeWidth": 1.6, "interpolate": "monotone"}, "encoding": {"detail": {"field": "s"}}},
  {"data": {"name": "ar"}, "mark": {"type": "rule", "color": "black", "strokeWidth": 1, "strokeDash": [3, 2]}, "encoding": {"y2": {"field": "v2"}}},
  {"data": {"name": "ap"}, "mark": {"type": "text", "angle": 270, "align": "left", "baseline": "middle", "fontSize": 10}, "encoding": {"text": {"field": "t"}, "color": {"field": "k", "type": "nominal", "scale": {"domain": ["i", "ii"], "range": ["#2323a3", "#e5174d"]}, "legend": null}}},
  {"data": {"name": "al"}, "mark": {"type": "text", "align": "left", "baseline": "middle", "dx": 3, "fontSize": 13, "fontWeight": "bold"}, "encoding": {"text": {"field": "t"}}},
  {"data": {"name": "at"}, "mark": {"type": "text", "align": "center", "baseline": "middle", "fontSize": 15, "fontWeight": "bold"}, "encoding": {"text": {"field": "t"}}},
  {"data": {"name": "aco"}, "mark": {"type": "text", "align": "center", "baseline": "middle", "fontSize": 13, "fontWeight": "bold"}, "encoding": {"text": {"field": "t"}}}
]
},
{
"width": 281, "height": 296,
"encoding": {
  "x": {"field": "w", "type": "quantitative", "scale": {"domain": [1000, 2500], "reverse": true, "nice": false, "zero": false},
    "axis": {"values": [2400, 2250, 2100, 1950, 1800, 1650, 1500, 1350, 1200, 1050], "format": "d", "labelExpr": "datum.value % 300 === 0 ? datum.label : ''", "tickSize": {"condition": {"test": "datum.value % 300 === 0", "value": -5}, "value": -3}, "labelPadding": 10, "labelFontSize": 12, "labelFontWeight": "bold", "labelFlush": false, "labelOverlap": false, "title": "Wavenumber / cm⁻¹", "titleFontSize": 16, "titleFontWeight": "normal", "titlePadding": 3}},
  "y": {"field": "v", "type": "quantitative", "scale": {"domain": [0, 100], "nice": false, "zero": false},
    "axis": {"values": [94.1, 79.7, 64.6, 49.7, 35.3], "labels": false, "tickSize": -4, "title": "Intensity / a.u.", "titleFontSize": 16, "titleFontWeight": "normal", "titlePadding": 10}}
},
"layer": [
  {"data": {"name": "b"}, "mark": {"type": "line", "color": "black", "strokeWidth": 1.6, "interpolate": "monotone"}, "encoding": {"detail": {"field": "s"}}},
  {"data": {"name": "br"}, "mark": {"type": "rule", "color": "black", "strokeWidth": 1, "strokeDash": [3, 2]}, "encoding": {"y2": {"field": "v2"}}},
  {"data": {"name": "bp"}, "mark": {"type": "text", "angle": 270, "align": "left", "baseline": "middle", "fontSize": 12, "fontWeight": "bold"}, "encoding": {"text": {"field": "t"}, "color": {"field": "k", "type": "nominal", "scale": {"domain": ["i", "ii"], "range": ["#2323a3", "#e5174d"]}, "legend": null}}},
  {"data": {"name": "bl"}, "mark": {"type": "text", "align": "left", "baseline": "middle", "dx": 3, "fontSize": 11}, "encoding": {"text": {"field": "t"}}},
  {"data": {"name": "bt"}, "mark": {"type": "text", "align": "center", "baseline": "middle", "fontSize": 15}, "encoding": {"text": {"field": "t"}}}
]
}
]
},
{
"width": 283, "height": 296,
"encoding": {
  "x": {"field": "w", "type": "quantitative", "scale": {"domain": [1000, 2500], "reverse": true, "nice": false, "zero": false},
    "axis": {"values": [2400, 2250, 2100, 1950, 1800, 1650, 1500, 1350, 1200, 1050], "format": "d", "labelExpr": "datum.value % 300 === 0 ? datum.label : ''", "tickSize": {"condition": {"test": "datum.value % 300 === 0", "value": -5}, "value": -3}, "labelPadding": 10, "labelFontSize": 12, "labelFontWeight": "bold", "labelFlush": false, "labelOverlap": false, "title": "Wavenumber / cm⁻¹", "titleFontSize": 15, "titleFontWeight": "bold", "titlePadding": 3}},
  "y": {"field": "v", "type": "quantitative", "scale": {"domain": [0, 100], "nice": false, "zero": false},
    "axis": {"values": [94.6, 79.2, 64.3, 49.7, 35.1], "labels": false, "tickSize": -4, "title": "Intensity / a.u.", "titleFontSize": 15, "titleFontWeight": "bold", "titlePadding": 4}}
},
"layer": [
  {"data": {"name": "c"}, "mark": {"type": "line", "color": "black", "strokeWidth": 1.6, "interpolate": "monotone"}, "encoding": {"detail": {"field": "s"}}},
  {"data": {"name": "cr"}, "mark": {"type": "rule", "color": "black", "strokeWidth": 1, "strokeDash": [3, 2]}, "encoding": {"y2": {"field": "v2"}}},
  {"data": {"name": "cp"}, "mark": {"type": "text", "angle": 270, "align": "left", "baseline": "middle", "fontSize": 12, "fontWeight": "bold"}, "encoding": {"text": {"field": "t"}, "color": {"field": "k", "type": "nominal", "scale": {"domain": ["i", "ii"], "range": ["#2323a3", "#e5174d"]}, "legend": null}}},
  {"data": {"name": "cl"}, "mark": {"type": "text", "align": "left", "baseline": "middle", "dx": 3, "fontSize": 11.5}, "encoding": {"text": {"field": "t"}}},
  {"data": {"name": "ct"}, "mark": {"type": "text", "align": "center", "baseline": "middle", "fontSize": 15, "fontWeight": "bold"}, "encoding": {"text": {"field": "t"}}}
]
}
]
}
